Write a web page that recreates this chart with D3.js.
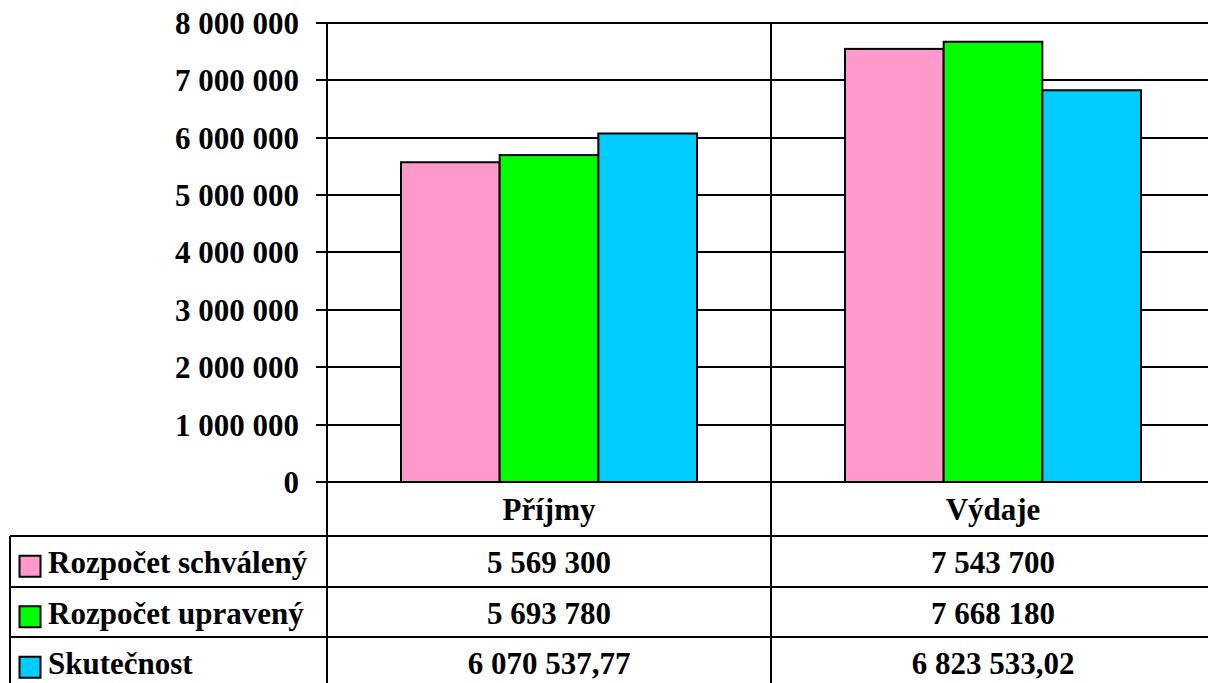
<!DOCTYPE html>
<html>
<head>
<meta charset="utf-8">
<script src="https://cdn.jsdelivr.net/npm/d3@7"></script>
<style>
  body { margin: 0; background: #fff; }
  svg { display: block; }
</style>
</head>
<body>
<svg></svg>
<script>
var categories = ["Příjmy", "Výdaje"];
var seriesNames = ["Rozpočet schválený", "Rozpočet upravený", "Skutečnost"];
var seriesColors = ["#FF99CC", "#00FF00", "#00CCFF"];
var schvaleny = [5569300, 7543700];
var upraveny = [5693780, 7668180];
var skutecnost = [6070537.77, 6823533.02];
var yTicks = [0, 1000000, 2000000, 3000000, 4000000, 5000000, 6000000, 7000000, 8000000];

var values = [schvaleny, upraveny, skutecnost];

var width = 1208, height = 683;
var svg = d3.select("svg")
    .attr("width", width)
    .attr("height", height)
    .style("font-family", "'Liberation Serif', 'Times New Roman', serif")
    .style("font-weight", "bold")
    .style("font-size", "31px");

// plot area runs off the right edge, like the original
var plotLeft = 327, plotRight = 1215, plotTop = 22.7, plotBottom = 482;
var tableLeft = 10, headerH = 54, rowH = 50.5;

var cz = d3.formatLocale({ decimal: ",", thousands: " ", grouping: [3], currency: ["", ""] });
var fmtTick = cz.format(",d");
var fmtVal = cz.format(",.2~f");

var x0 = d3.scaleBand().domain(categories).range([plotLeft, plotRight]);
// gap width 150 % -> 3 bars + 1.5 bar of gap per category
var barW = x0.bandwidth() / 4.5;
var x1 = d3.scaleBand().domain(d3.range(3))
    .range([barW * 0.75, barW * 3.75]);
var y = d3.scaleLinear().domain([0, 8000000]).range([plotBottom, plotTop]);

var lineStyle = function (sel) {
    sel.attr("stroke", "#000").attr("stroke-width", 2).attr("shape-rendering", "crispEdges");
};

// horizontal gridlines + tick marks
svg.append("g").selectAll("line")
    .data(yTicks)
    .enter().append("line")
    .attr("x1", plotLeft - 11)
    .attr("x2", plotRight)
    .attr("y1", function (d) { return y(d); })
    .attr("y2", function (d) { return y(d); })
    .call(lineStyle);

// y tick labels
svg.append("g").selectAll("text")
    .data(yTicks)
    .enter().append("text")
    .attr("x", 299)
    .attr("y", function (d) { return y(d) + 11; })
    .attr("text-anchor", "end")
    .text(function (d) { return fmtTick(d); });

// bars
var groups = svg.append("g").selectAll("g")
    .data(categories)
    .enter().append("g")
    .attr("transform", function (d) { return "translate(" + x0(d) + ",0)"; });

groups.selectAll("rect")
    .data(function (d, ci) { return values.map(function (s, si) { return { si: si, v: s[ci] }; }); })
    .enter().append("rect")
    .attr("x", function (d) { return x1(d.si); })
    .attr("width", x1.bandwidth())
    .attr("y", function (d) { return y(d.v); })
    .attr("height", function (d) { return plotBottom - y(d.v); })
    .attr("fill", function (d) { return seriesColors[d.si]; })
    .attr("stroke", "#000")
    .attr("stroke-width", 2);

var tableBottom = plotBottom + headerH + rowH * 3;

// vertical lines: axis, category divider
svg.append("g").selectAll("line")
    .data(categories.concat(["end"]))
    .enter().append("line")
    .attr("x1", function (d, i) { return plotLeft + i * x0.bandwidth(); })
    .attr("x2", function (d, i) { return plotLeft + i * x0.bandwidth(); })
    .attr("y1", plotTop)
    .attr("y2", tableBottom)
    .call(lineStyle);

// redraw zero line on top of bars
svg.append("line")
    .attr("x1", plotLeft - 11).attr("x2", plotRight)
    .attr("y1", y(0)).attr("y2", y(0))
    .call(lineStyle);

// header row labels
svg.append("g").selectAll("text")
    .data(categories)
    .enter().append("text")
    .attr("x", function (d) { return x0(d) + x0.bandwidth() / 2; })
    .attr("y", plotBottom + headerH / 2 + 11)
    .attr("text-anchor", "middle")
    .text(function (d) { return d; });

// table rows
var rowTop = function (i) { return plotBottom + headerH + i * rowH; };

svg.append("g").selectAll("line")
    .data(d3.range(4))
    .enter().append("line")
    .attr("x1", tableLeft).attr("x2", plotRight)
    .attr("y1", function (d) { return rowTop(d); })
    .attr("y2", function (d) { return rowTop(d); })
    .call(lineStyle);

svg.append("line")
    .attr("x1", tableLeft).attr("x2", tableLeft)
    .attr("y1", rowTop(0)).attr("y2", tableBottom)
    .call(lineStyle);

var rows = svg.append("g").selectAll("g")
    .data(seriesNames)
    .enter().append("g")
    .attr("transform", function (d, i) { return "translate(0," + (rowTop(i) + rowH / 2) + ")"; });

rows.append("rect")
    .attr("x", 19.5).attr("y", -5.5)
    .attr("width", 21).attr("height", 21)
    .attr("fill", function (d, i) { return seriesColors[i]; })
    .attr("stroke", "#000")
    .attr("stroke-width", 2);

rows.append("text")
    .attr("x", 48)
    .attr("y", 12)
    .text(function (d) { return d; });

rows.each(function (d, si) {
    d3.select(this).selectAll("text.val")
        .data(values[si])
        .enter().append("text")
        .attr("class", "val")
        .attr("x", function (v, ci) { return x0(categories[ci]) + x0.bandwidth() / 2; })
        .attr("y", 12)
        .attr("text-anchor", "middle")
        .text(function (v) { return fmtVal(v); });
});
</script>
</body>
</html>
